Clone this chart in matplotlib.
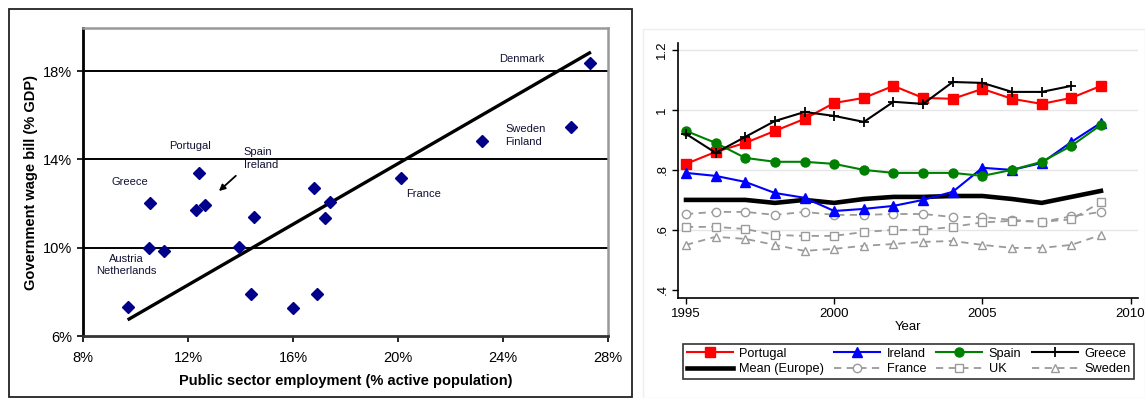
import matplotlib
matplotlib.use("Agg")
import matplotlib.pyplot as plt
from matplotlib.patches import Rectangle

plt.rcParams['font.family'] = ['Liberation Sans', 'DejaVu Sans']

# ---- Left panel: public employment vs wage bill ----
emp = [27.3, 26.6, 23.2, 20.1, 16.8, 17.4, 17.2, 16.9, 12.4, 10.55,
       12.3, 12.65, 14.5, 10.5, 11.1, 13.95, 14.4, 16.0, 9.7]
wage = [18.36, 15.47, 14.83, 13.16, 12.7, 12.05, 11.35, 7.9, 13.4, 12.03,
        11.7, 11.94, 11.4, 10.0, 9.86, 10.05, 7.9, 7.27, 7.3]
trend_x = [9.7, 27.35]
trend_y = [6.73, 18.86]
country_labels = [
    ("Denmark", 24.7, 18.54, "center"),
    ("Sweden\nFinland", 24.1, 15.08, "left"),
    ("France", 20.3, 12.43, "left"),
    ("Portugal", 11.3, 14.6, "left"),
    ("Spain\nIreland", 14.13, 14.04, "left"),
    ("Greece", 9.1, 12.98, "left"),
    ("Austria\nNetherlands", 9.65, 9.22, "center"),
]
x_ticks = [8, 12, 16, 20, 24, 28]
y_ticks = [6, 10, 14, 18]

# ---- Right panel: wage bill relative index by year ----
years = list(range(1995, 2010))
portugal = [0.82, 0.86, 0.89, 0.93, 0.97, 1.023, 1.04, 1.08, 1.04, 1.037, 1.07, 1.037, 1.02, 1.04, 1.08]
ireland = [0.79, 0.78, 0.76, 0.723, 0.707, 0.663, 0.67, 0.68, 0.70, 0.727, 0.807, 0.80, 0.823, 0.893, 0.957]
spain = [0.93, 0.89, 0.84, 0.827, 0.827, 0.82, 0.80, 0.79, 0.79, 0.79, 0.78, 0.80, 0.827, 0.88, 0.95]
greece = [0.92, 0.857, 0.91, 0.963, 0.993, 0.98, 0.96, 1.027, 1.02, 1.093, 1.09, 1.06, 1.06, 1.08]
mean_eu = [0.70, 0.70, 0.70, 0.69, 0.70, 0.69, 0.703, 0.71, 0.71, 0.713, 0.713, 0.703, 0.69, 0.71, 0.73]
france = [0.653, 0.66, 0.66, 0.65, 0.66, 0.65, 0.65, 0.653, 0.653, 0.643, 0.643, 0.633, 0.627, 0.645, 0.66]
uk = [0.61, 0.61, 0.603, 0.583, 0.58, 0.58, 0.593, 0.60, 0.60, 0.61, 0.625, 0.63, 0.627, 0.635, 0.693]
sweden = [0.55, 0.577, 0.57, 0.55, 0.53, 0.537, 0.547, 0.553, 0.56, 0.563, 0.55, 0.54, 0.54, 0.55, 0.583]
year_ticks = [1995, 2000, 2005, 2010]
idx_ticks = [0.4, 0.6, 0.8, 1.0, 1.2]
idx_labels = [".4", ".6", ".8", "1", "1.2"]

fig = plt.figure(figsize=(11.45, 3.98), dpi=100)
W, H = 1145, 398

# frame around the left figure
fig.patches.append(Rectangle((9 / W, 1 / H), (632 - 9) / W, 388 / H,
                             transform=fig.transFigure, fill=False,
                             edgecolor="#222222", linewidth=1.3))
# faint frame around the right figure
fig.patches.append(Rectangle((643 / W, 0.0), (W - 643) / W, (398 - 29) / H,
                             transform=fig.transFigure, fill=False,
                             edgecolor="#eeeeee", linewidth=1.0))

ax1 = fig.add_axes([83 / W, (H - 336) / H, (608 - 83) / W, (336 - 28) / H])
ax1.set_xlim(8, 28)
ax1.set_ylim(6, 19.95)
for yv in y_ticks[1:]:
    ax1.axhline(yv, color="black", linewidth=1.4, zorder=1)
ax1.plot(trend_x, trend_y, color="black", linewidth=2.4, zorder=2,
         solid_capstyle="butt")
ax1.plot(emp, wage, linestyle="none", marker="D", markersize=6.5,
         color="#00008b", zorder=3)
for text, x, y, ha in country_labels:
    ax1.text(x, y, text, fontsize=8, ha=ha, va="center", color="#111133",
             linespacing=1.3)
ax1.annotate("", xy=(13.1, 12.48), xytext=(13.9, 13.34),
             arrowprops=dict(arrowstyle="-|>", color="black", lw=1.3,
                             mutation_scale=9))
ax1.set_xticks(x_ticks)
ax1.set_xticklabels([f"{v}%" for v in x_ticks])
ax1.set_yticks(y_ticks)
ax1.set_yticklabels([f"{v}%" for v in y_ticks])
ax1.tick_params(axis="both", direction="out", length=4, width=1.2,
                labelsize=10.5, colors="black", pad=4)
ax1.tick_params(axis="x", pad=7)
ax1.spines["left"].set_linewidth(2.0)
ax1.spines["bottom"].set_linewidth(2.0)
ax1.spines["bottom"].set_color("#333333")
for s in ("top", "right"):
    ax1.spines[s].set_color("#999999")
    ax1.spines[s].set_linewidth(1.8)
ax1.set_xlabel("Public sector employment (% active population)",
               fontsize=10.5, fontweight="bold", labelpad=6)
ax1.set_ylabel("Government wage bill (% GDP)", fontsize=10.5,
               fontweight="bold", labelpad=3)

ax2 = fig.add_axes([678 / W, (H - 298) / H, (1138 - 678) / W, (298 - 43) / H])
ax2.set_xlim(1994.73, 2010.25)
ax2.set_ylim(0.373, 1.223)
for yv in idx_ticks[1:]:
    ax2.axhline(yv, color="#e6e6e6", linewidth=1.0, zorder=0)

gray = "#9a9a9a"
ax2.plot(years, portugal, color="#ff0000", marker="s", markersize=6.5,
         linewidth=1.5, label="Portugal", zorder=4)
ax2.plot(years, ireland, color="#0000ff", marker="^", markersize=6.5,
         linewidth=1.5, label="Ireland", zorder=4)
ax2.plot(years, spain, color="#008000", marker="o", markersize=6.5,
         linewidth=1.5, label="Spain", zorder=4)
ax2.plot(years[:len(greece)], greece, color="black", marker="+",
         markersize=7.5, markeredgewidth=1.3, linewidth=1.5, label="Greece",
         zorder=4)
ax2.plot(years, mean_eu, color="black", linewidth=3.3,
         label="Mean (Europe)", zorder=3)
ax2.plot(years, france, color=gray, linestyle=(0, (4, 3)), marker="o",
         markersize=6, markerfacecolor="white", linewidth=1.3,
         label="France", zorder=2)
ax2.plot(years, uk, color=gray, linestyle=(0, (4, 3)), marker="s",
         markersize=6, markerfacecolor="white", linewidth=1.3,
         label="UK", zorder=2)
ax2.plot(years, sweden, color=gray, linestyle=(0, (4, 3)), marker="^",
         markersize=6, markerfacecolor="white", linewidth=1.3,
         label="Sweden", zorder=2)

ax2.set_xticks(year_ticks)
ax2.set_yticks(idx_ticks)
ax2.set_yticklabels(idx_labels, rotation=90, va="center")
ax2.tick_params(axis="both", direction="out", length=4, width=1.0,
                labelsize=9.5, colors="black", pad=3)
for s in ("top", "right"):
    ax2.spines[s].set_visible(False)
ax2.spines["left"].set_linewidth(1.2)
ax2.spines["bottom"].set_linewidth(1.2)
ax2.set_xlabel("Year", fontsize=9.5, labelpad=1)

handles, labels = ax2.get_legend_handles_labels()
order = [0, 4, 1, 5, 2, 6, 3, 7]
leg = fig.legend([handles[i] for i in order], [labels[i] for i in order],
                 loc="center", bbox_to_anchor=(908.5 / W, 1 - 361.5 / H),
                 ncol=4, fontsize=9.2, frameon=True, fancybox=False,
                 edgecolor="black", handlelength=3.6, columnspacing=0.8,
                 borderpad=0.3, labelspacing=0.25, handletextpad=0.5)
leg.get_frame().set_linewidth(1.2)

fig.savefig("out.png", dpi=100)
